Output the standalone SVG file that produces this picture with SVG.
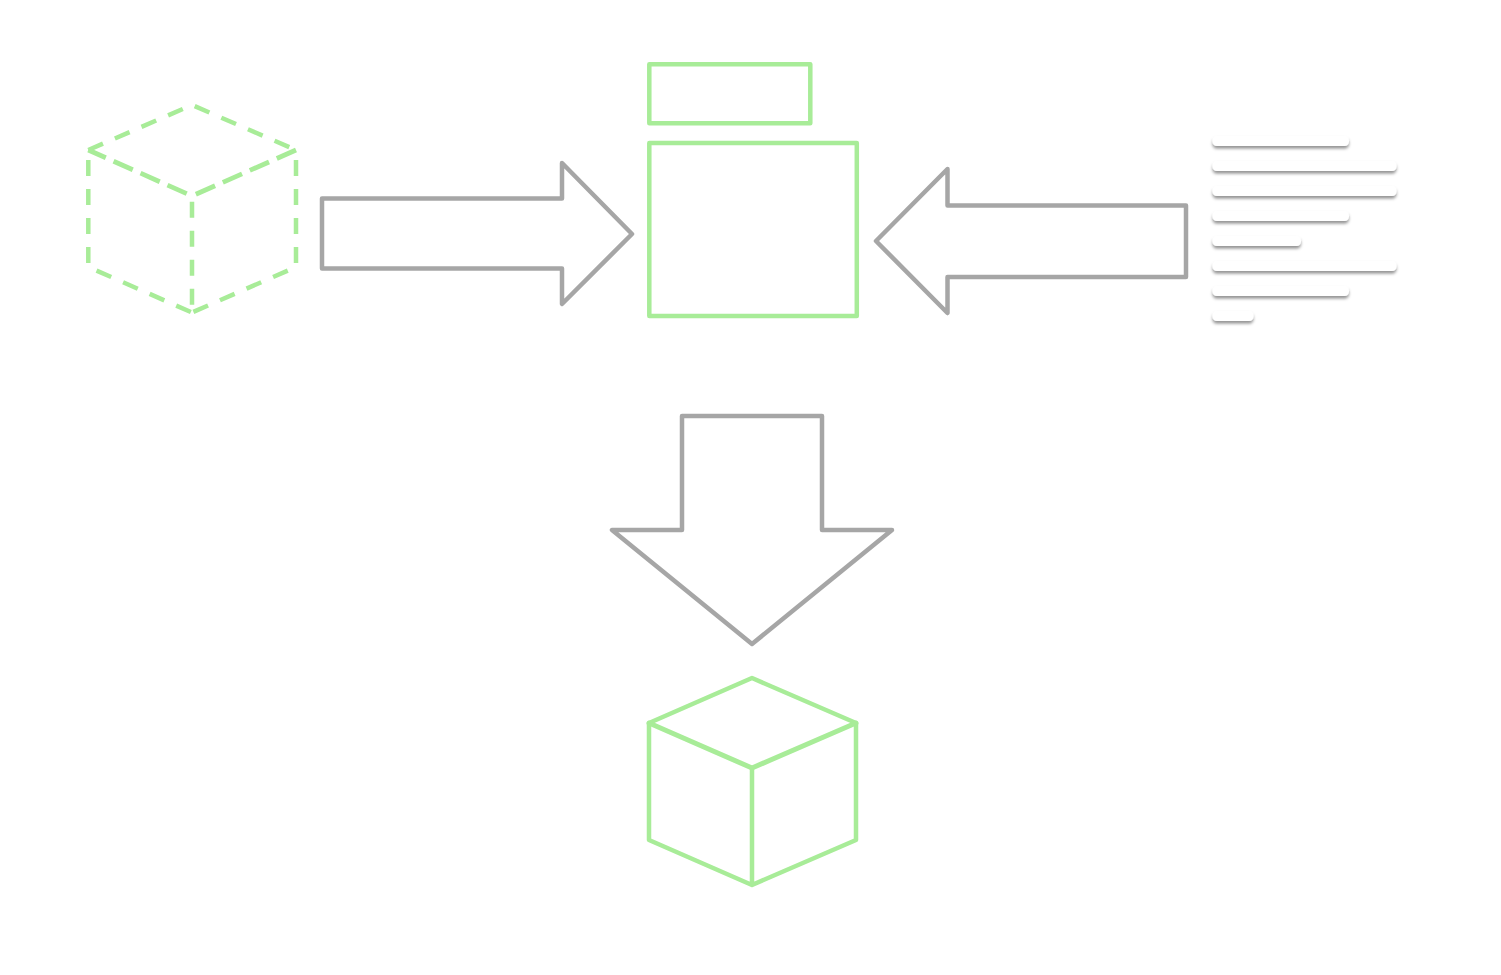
<svg xmlns="http://www.w3.org/2000/svg" width="1501" height="975" viewBox="0 0 1501 975">
<style>
.g{fill:none;stroke:#a8ec98;stroke-width:4.5;stroke-linejoin:round;stroke-linecap:round}
.t{stroke-width:5}
.d{stroke-dasharray:16 13;stroke-linecap:butt;stroke-linejoin:miter}
.e{stroke-dasharray:21 8.5;stroke-linecap:butt;stroke-linejoin:miter;stroke-width:4.8}
.a{fill:#fff;stroke:#a6a6a6;stroke-width:4.5;stroke-linejoin:round}
.b{fill:#fff;filter:url(#s)}
</style>
<defs><filter id="s" x="-10%" y="-100%" width="120%" height="300%"><feDropShadow dx="0" dy="2.6" stdDeviation="1.8" flood-color="#000" flood-opacity="0.42"/></filter></defs>
<rect width="1501" height="975" fill="#fff"/>
<g id="cube-dashed">
<path class="g d" d="M88.300 150L192 105L296 150"/>
<path class="g e" d="M296 150L192 196"/>
<path class="g e" stroke-dashoffset="23.7" d="M192 196L88.300 150"/>
<path class="g d" stroke-dashoffset="19" d="M88.300 150V267L192 312.500"/>
<path class="g d" stroke-dashoffset="19" d="M296 150V267L192 312.500"/>
<path class="g d" stroke-dashoffset="23.3" d="M192 196V312.500"/>
</g>
<g id="box-small"><rect class="g" x="649.300" y="64.300" width="161" height="59"/></g>
<g id="box-large"><rect class="g" x="649.300" y="143" width="207.500" height="173"/></g>
<g id="text-lines">
<rect class="b" x="1212.500" y="136" width="136.500" height="10" rx="4.500"/>
<rect class="b" x="1212.500" y="161" width="184" height="10" rx="4.500"/>
<rect class="b" x="1212.500" y="186" width="184" height="10" rx="4.500"/>
<rect class="b" x="1212.500" y="211" width="136.500" height="10" rx="4.500"/>
<rect class="b" x="1212.500" y="236" width="88.500" height="10" rx="4.500"/>
<rect class="b" x="1212.500" y="261" width="184" height="10" rx="4.500"/>
<rect class="b" x="1212.500" y="286" width="136.500" height="10" rx="4.500"/>
<rect class="b" x="1212.500" y="311" width="41" height="10" rx="4.500"/>
</g>
<g id="cube-solid">
<path class="g" d="M649 723L752 678L856 723V840L752 885L649 840ZM752 768V885"/>
<path class="g t" d="M649 723L752 768L856 723"/>
</g>
<g id="connectors">
<path class="a" d="M322 198.500H562V163L632 234L562 304V268.500H322Z"/>
<path class="a" d="M1186 205.500H947.500V169L876 241L947.500 313V277H1186Z"/>
<path class="a" d="M682 416H822V530H892L752 644L612 530H682Z"/>
</g>
</svg>
